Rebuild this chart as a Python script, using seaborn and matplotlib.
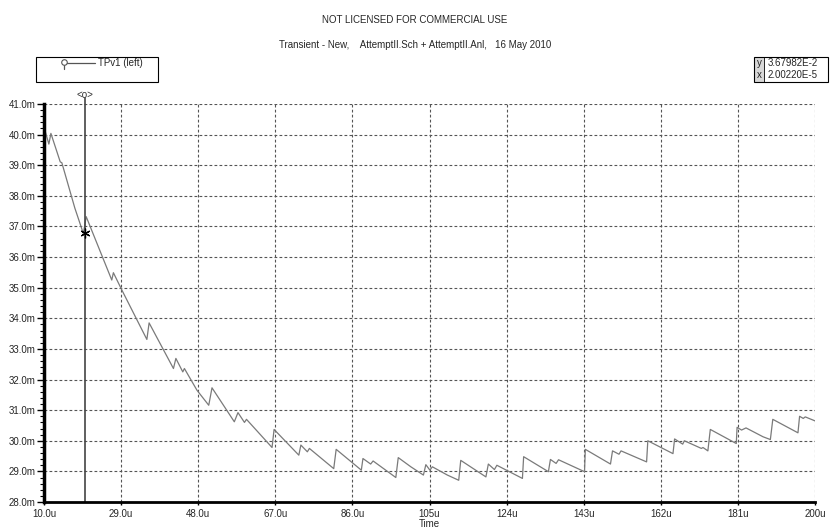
import numpy as np
import pandas as pd
import matplotlib
matplotlib.use("Agg")
import matplotlib.pyplot as plt
import seaborn as sns
from matplotlib.patches import Rectangle
from matplotlib.lines import Line2D
from matplotlib.ticker import FixedLocator, MultipleLocator, FuncFormatter

# Probe TPv1 transient, time in microseconds, voltage in millivolts
time_us = [10.2, 11.2, 11.7, 14.0, 14.4, 17.6, 19.7, 20.4, 26.7, 27.1, 29.2,
           35.35, 35.9, 41.9, 42.5, 44.2, 44.6, 47.7, 50.6, 51.4, 56.9, 57.8,
           59.4, 59.9, 66.2, 66.7, 72.8, 73.3, 74.9, 75.4, 81.4, 82.0, 88.2,
           88.6, 90.5, 91.1, 96.7, 97.3, 100.4, 103.5, 104.1, 105.1, 105.7,
           109.4, 112.2, 112.7, 118.9, 119.5, 121.0, 121.6, 127.9, 128.2,
           134.3, 134.8, 136.2, 136.8, 143.2, 143.4, 149.6, 150.1, 151.7,
           152.2, 158.5, 158.8, 165.0, 165.4, 167.4, 167.8, 172.0, 172.4,
           173.6, 174.2, 180.6, 180.8, 181.9, 183.0, 187.2, 189.0, 189.6,
           195.8, 196.2, 197.1, 197.6, 200.0]
voltage_mv = [40.15, 39.69, 40.04, 39.11, 39.08, 37.60, 36.77, 37.32, 35.25,
              35.49, 34.92, 33.31, 33.85, 32.36, 32.69, 32.25, 32.36, 31.65,
              31.16, 31.73, 30.62, 30.92, 30.60, 30.70, 29.78, 30.37, 29.53,
              29.86, 29.64, 29.75, 29.09, 29.72, 29.04, 29.42, 29.24, 29.34,
              28.80, 29.45, 29.15, 28.88, 29.22, 29.04, 29.15, 28.88, 28.71,
              29.36, 28.82, 29.24, 29.06, 29.20, 28.77, 29.48, 28.99, 29.39,
              29.26, 29.38, 28.99, 29.72, 29.24, 29.67, 29.56, 29.67, 29.31,
              30.00, 29.58, 30.06, 29.89, 30.00, 29.75, 29.78, 29.67, 30.37,
              29.91, 30.44, 30.35, 30.42, 30.13, 30.04, 30.70, 30.26, 30.80,
              30.73, 30.78, 30.65]

x_ticks = [10, 29, 48, 67, 86, 105, 124, 143, 162, 181, 200]
y_ticks = [28, 29, 30, 31, 32, 33, 34, 35, 36, 37, 38, 39, 40, 41]

cursor_x_us = 20.0220
cursor_y_mv = 36.7982
cursor_text = ["3.67982E-2", "2.00220E-5"]

title_top = "NOT LICENSED FOR COMMERCIAL USE"
title_sub = "Transient - New,    AttemptII.Sch + AttemptII.Anl,   16 May 2010"
legend_label = "TPv1 (left)"

df = pd.DataFrame({"Time": time_us, "TPv1": voltage_mv})

sns.set_style("white")
plt.rcParams["font.family"] = ["Liberation Sans", "DejaVu Sans"]

W, H = 830, 530
fig = plt.figure(figsize=(W / 100, H / 100), dpi=100)
ax = fig.add_axes([44 / W, 1 - 502 / H, (815 - 44) / W, (502 - 104) / H])

sns.lineplot(data=df, x="Time", y="TPv1", ax=ax, color="#7a7a7a",
             linewidth=0.9, estimator=None, sort=False, legend=False)

ax.set_xlim(10, 200)
ax.set_ylim(28, 41)
ax.xaxis.set_major_locator(FixedLocator(x_ticks))
ax.yaxis.set_major_locator(FixedLocator(y_ticks))
ax.yaxis.set_minor_locator(MultipleLocator(0.2))


def fmt_time(v, pos):
    return f"{v:.1f}u" if v < 100 else f"{v:.0f}u"


ax.xaxis.set_major_formatter(FuncFormatter(fmt_time))
ax.yaxis.set_major_formatter(FuncFormatter(lambda v, p: f"{v:.1f}m"))

ax.tick_params(axis="y", which="major", direction="out", length=5, width=1,
               labelsize=7, pad=1, left=True, color="black")
ax.tick_params(axis="y", which="minor", direction="out", length=3, width=0.8,
               left=True, color="black")
ax.tick_params(axis="x", which="major", direction="out", length=2, width=1,
               labelsize=7, pad=3, bottom=True, color="black")

ax.grid(True, which="major", color="#555555", linestyle=(0, (2.5, 2)),
        linewidth=0.8)
ax.set_axisbelow(True)

for side in ["top", "right"]:
    ax.spines[side].set_visible(False)
ax.spines["left"].set_linewidth(2.5)
ax.spines["left"].set_color("black")
ax.spines["bottom"].set_linewidth(2.0)
ax.spines["bottom"].set_color("black")

ax.set_xlabel("Time", fontsize=7, labelpad=0)
ax.set_ylabel("")

# measurement cursor
ax.axvline(cursor_x_us, ymin=0, ymax=1.015, color="#444444", linewidth=1.2,
           clip_on=False)
ax.plot([cursor_x_us], [cursor_y_mv], marker=(6, 2, 0), markersize=7,
        color="black", markeredgewidth=0.9)
ax.text(cursor_x_us, 41.13, "<o>", ha="center", va="bottom", fontsize=7,
        color="#333333")

# titles
fig.text(0.5, 1 - 20 / H, title_top, ha="center", va="center", fontsize=7)
fig.text(0.5, 1 - 45 / H, title_sub, ha="center", va="center", fontsize=7)

# trace legend box
fig.patches.append(Rectangle((36 / W, 1 - 82 / H), 122 / W, 25 / H,
                             transform=fig.transFigure, fill=False,
                             edgecolor="black", linewidth=0.8))
fig.lines.append(Line2D([64 / W, 95 / W], [1 - 63 / H, 1 - 63 / H],
                        transform=fig.transFigure, color="#555555",
                        linewidth=0.9))
fig.lines.append(Line2D([64 / W, 64 / W], [1 - 63 / H, 1 - 69 / H],
                        transform=fig.transFigure, color="#555555",
                        linewidth=0.9))
fig.lines.append(Line2D([64 / W], [1 - 62 / H], transform=fig.transFigure,
                        marker="o", markersize=4, markerfacecolor="white",
                        markeredgecolor="#555555", markeredgewidth=0.8))
fig.text(98 / W, 1 - 63 / H, legend_label, ha="left", va="center", fontsize=7)

# cursor readout box
bx0, bx1, by0, by1 = 754, 828, 57, 82
fig.patches.append(Rectangle((bx0 / W, 1 - by1 / H), 10 / W, (by1 - by0) / H,
                             transform=fig.transFigure, facecolor="#d8d8d8",
                             edgecolor="none"))
fig.lines.append(Line2D([(bx0 + 10) / W] * 2, [1 - by0 / H, 1 - by1 / H],
                        transform=fig.transFigure, color="black",
                        linewidth=0.6))
fig.patches.append(Rectangle((bx0 / W, 1 - by1 / H), (bx1 - bx0) / W,
                             (by1 - by0) / H, transform=fig.transFigure,
                             fill=False, edgecolor="black", linewidth=0.8))
fig.text((bx0 + 5) / W, 1 - 63.5 / H, "y", ha="center", va="center",
         fontsize=7)
fig.text((bx0 + 5) / W, 1 - 75 / H, "x", ha="center", va="center",
         fontsize=7)
fig.text((bx0 + 14) / W, 1 - 63.5 / H, cursor_text[0], ha="left",
         va="center", fontsize=7)
fig.text((bx0 + 14) / W, 1 - 75 / H, cursor_text[1], ha="left",
         va="center", fontsize=7)

fig.savefig("out.png", dpi=100, facecolor="white")
